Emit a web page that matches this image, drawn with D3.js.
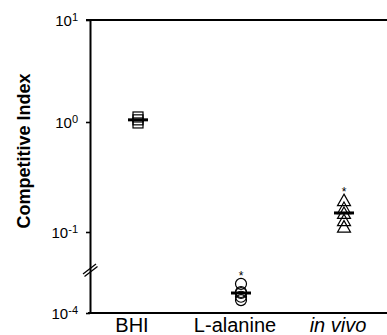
<!DOCTYPE html>
<html>
<head>
<meta charset="utf-8">
<script src="https://cdn.jsdelivr.net/npm/d3@7"></script>
<style>
  body { margin: 0; background: #fff; }
  svg { display: block; font-family: "Liberation Sans", Arial, Helvetica, sans-serif; }
</style>
</head>
<body>
<div id="chart"></div>
<script>
// data
var categories = ["BHI", "L-alanine", "in vivo"];
var bhiValues = [1.12, 1.05, 0.98];
var alanineValues = [1.2e-3, 6e-4, 5.5e-4, 4e-4, 3e-4];
var inVivoValues = [0.195, 0.165, 0.149, 0.128, 0.112];
var significant = [false, true, true];
var yTickValues = [1e-4, 1e-1, 1, 10];
var yTickExponents = ["-4", "-1", "0", "1"];

var series = [bhiValues, alanineValues, inVivoValues];
var shapes = ["square", "circle", "triangle"];

var W = 387, H = 335;
var margin = { top: 20, right: 0, bottom: 22, left: 90 },
  width = W - margin.left - margin.right,
  height = H - margin.top - margin.bottom;

var svg = d3.select("#chart")
  .append("svg")
  .attr("width", W)
  .attr("height", H)
  .append("g")
  .attr("transform", "translate(" + margin.left + "," + margin.top + ")");

// broken log axis: lower segment squeezed below the break
var y = d3.scaleLog()
  .domain([1e-4, 1e-1, 1, 10])
  .range([height, 212, 102, 0]);

var x = d3.scalePoint()
  .domain(categories)
  .range([48, 254]);

// y axis
var yAxis = svg.append("g")
  .call(d3.axisLeft(y).tickValues(yTickValues).tickSize(4).tickSizeOuter(0).tickFormat(""));
yAxis.select(".domain").attr("stroke-width", 2);
yAxis.selectAll(".tick line").attr("stroke-width", 1.6);

yAxis.selectAll(".tick")
  .append("text")
  .attr("fill", "#000")
  .attr("x", -12)
  .attr("dy", "0.36em")
  .attr("text-anchor", "end")
  .style("font-size", "15px")
  .each(function (d, i) {
    var t = d3.select(this);
    t.append("tspan").text("10");
    t.append("tspan")
      .attr("dy", "-0.45em")
      .style("font-size", "11px")
      .text(yTickExponents[i]);
  });

// top frame line and x axis line
svg.append("line")
  .attr("x1", -4).attr("x2", width)
  .attr("y1", y(10)).attr("y2", y(10))
  .attr("stroke", "#000").attr("stroke-width", 2);

svg.append("line")
  .attr("x1", -2).attr("x2", width)
  .attr("y1", height).attr("y2", height)
  .attr("stroke", "#000").attr("stroke-width", 2);

// axis break marks
var breakY = 249;
[0, 2.5].forEach(function (o) {
  svg.append("line")
    .attr("x1", -7 + o * 0.6).attr("x2", 6 + o * 0.6)
    .attr("y1", breakY + 5 + o).attr("y2", breakY - 5 + o)
    .attr("stroke", "#000").attr("stroke-width", 1.3);
});

// category labels
svg.append("g")
  .selectAll("text")
  .data(categories)
  .enter().append("text")
  .attr("x", d => x(d) - 6)
  .attr("y", height + 19)
  .attr("text-anchor", "middle")
  .attr("fill", "#000")
  .style("font-size", "20px")
  .style("font-style", (d, i) => i === 2 ? "italic" : "normal")
  .text(d => d);

// y title
svg.append("text")
  .attr("transform", "translate(" + (30 - margin.left) + "," + (151 - margin.top) + ") rotate(-90)")
  .attr("text-anchor", "middle")
  .attr("fill", "#000")
  .style("font-size", "18px")
  .style("font-weight", "bold")
  .text("Competitive Index");

// points
var groups = svg.append("g")
  .selectAll("g")
  .data(series)
  .enter().append("g")
  .attr("transform", (d, i) => "translate(" + x(categories[i]) + ",0)");

groups.each(function (vals, i) {
  var g = d3.select(this);
  var shape = shapes[i];
  vals.forEach(function (v) {
    if (shape === "square") {
      g.append("rect")
        .attr("x", -5).attr("y", y(v) - 5)
        .attr("width", 10).attr("height", 10);
    } else if (shape === "circle") {
      g.append("circle")
        .attr("cx", 0).attr("cy", y(v)).attr("r", 5.5);
    } else {
      g.append("path")
        .attr("d", "M0,-7L6.5,4.5L-6.5,4.5Z")
        .attr("transform", "translate(0," + (y(v) + 1) + ")");
    }
  });
  g.selectAll("rect, circle, path")
    .attr("fill", "none")
    .attr("stroke", "#000")
    .attr("stroke-width", 1.2);

  // median bar
  var med = d3.median(vals);
  g.append("line")
    .attr("x1", -10).attr("x2", 10)
    .attr("y1", y(med)).attr("y2", y(med))
    .attr("stroke", "#000").attr("stroke-width", 3);

  if (significant[i]) {
    g.append("text")
      .attr("x", 0)
      .attr("y", y(d3.max(vals)) - 4)
      .attr("text-anchor", "middle")
      .attr("fill", "#000")
      .style("font-size", "12px")
      .text("*");
  }
});
</script>
</body>
</html>
